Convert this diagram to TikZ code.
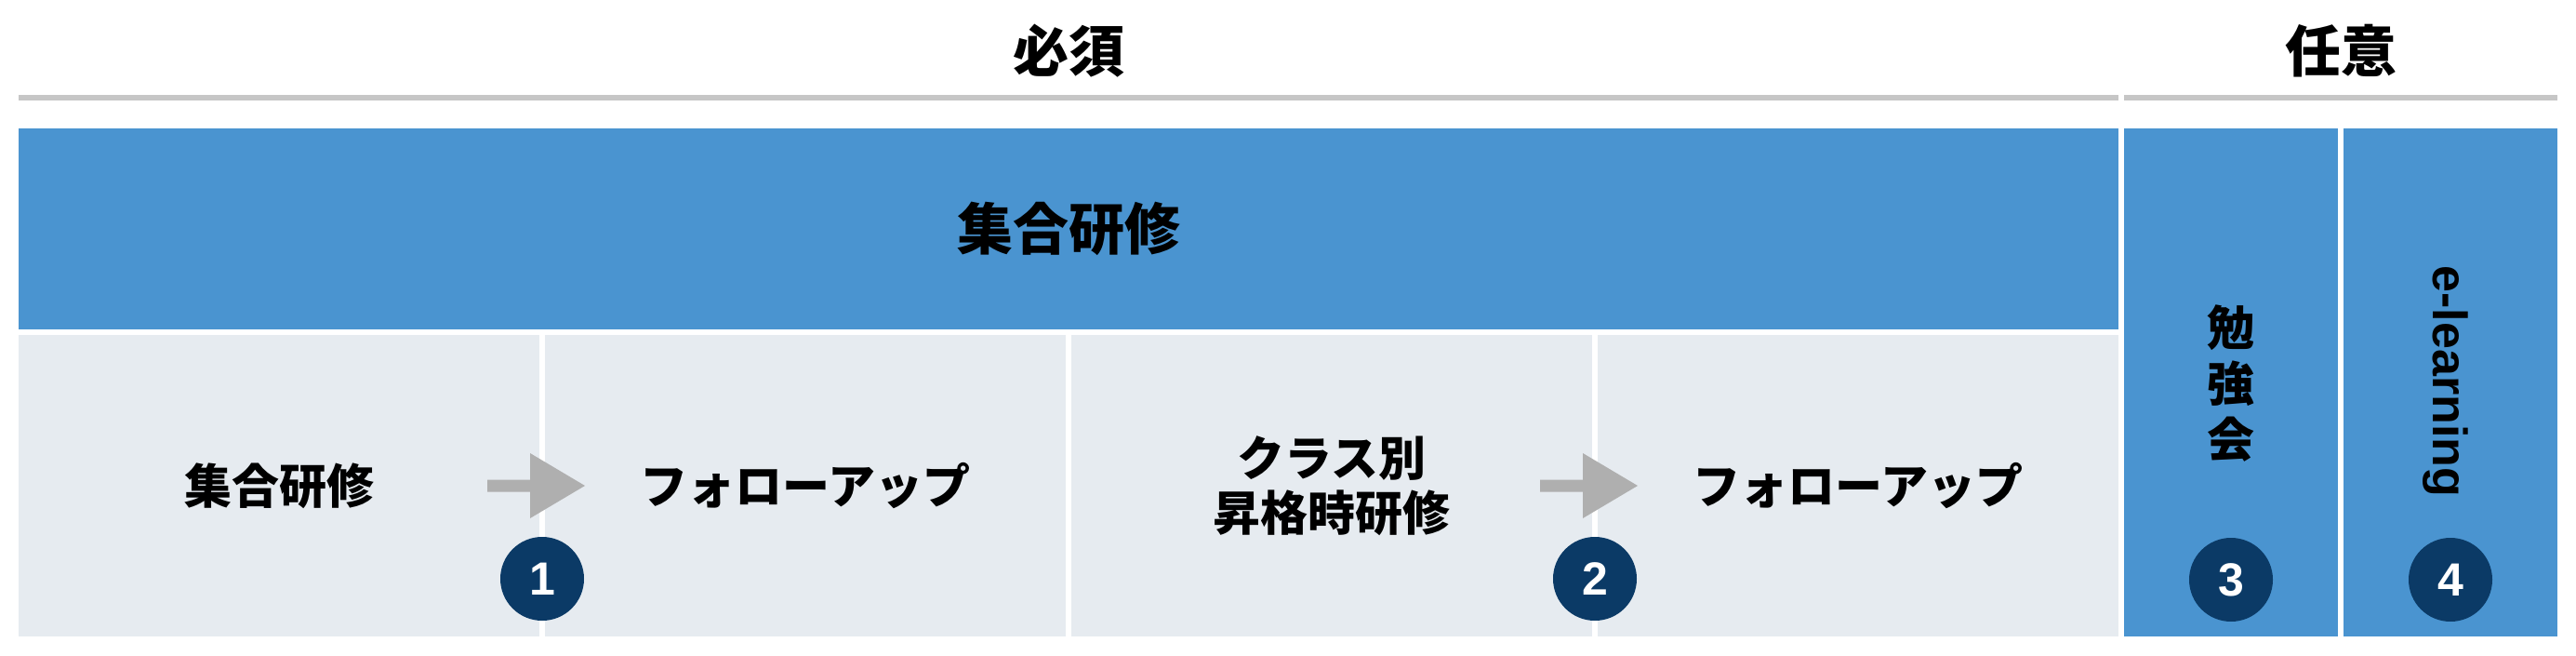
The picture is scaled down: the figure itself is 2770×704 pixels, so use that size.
\documentclass[tikz,border=0pt]{standalone}
\usepackage{fontspec}
\newfontfamily\jp{Noto Sans CJK JP}
\newfontfamily\lat{Liberation Sans}
\definecolor{blueC}{HTML}{4A94D0}
\definecolor{cellC}{HTML}{E6EBF0}
\definecolor{navyC}{HTML}{0B3A66}
\definecolor{arrowC}{HTML}{AFAFAF}
\definecolor{lineC}{HTML}{C6C6C6}
\begin{document}
\begin{tikzpicture}[x=1pt,y=-1pt,
  blk/.style={fill=blueC, draw=none, inner sep=0pt, outer sep=0pt},
  cellbox/.style={fill=cellC, draw=none, inner sep=0pt, outer sep=0pt, minimum width=560pt, minimum height=324pt, align=center, font=\jp\bfseries\fontsize{51}{59}\selectfont},
  num/.style={circle, fill=navyC, draw=none, minimum size=90pt, inner sep=0pt, text=white, font=\lat\bfseries\fontsize{50}{60}\selectfont},
  headtxt/.style={inner sep=0pt, font=\jp\bfseries\fontsize{60}{70}\selectfont},
  coltxt/.style={inner sep=0pt, align=center, font=\jp\bfseries\fontsize{51}{60}\selectfont},
  arrowshape/.style={fill=arrowC, draw=none},
  sepline/.style={draw=lineC, line width=6pt}
]
\useasboundingbox (0,0) rectangle (2770,704);
% header lines and labels
\coordinate (l1a) at (20,105);
\coordinate (l1b) at (2278,105);
\coordinate (l2a) at (2284,105);
\coordinate (l2b) at (2750,105);
\draw[sepline] (l1a) -- (l1b);
\draw[sepline] (l2a) -- (l2b);
\node[headtxt] (hissu) at (1149,55) {必須};
\node[headtxt] (nini) at (2517,55) {任意};
% blue band
\node[blk, minimum width=2258pt, minimum height=216pt, headtxt] (band) at (1149,246) {集合研修};
% cells
\node[cellbox] (c1) at (300,522) {集合研修};
\node[cellbox] (c2) at (866,522) {フォローアップ};
\node[cellbox] (c3) at (1432,522) {クラス別\\昇格時研修};
\node[cellbox] (c4) at (1998,522) {フォローアップ};
% optional columns
\node[blk, minimum width=230pt, minimum height=546pt] (col3) at (2399,411) {};
\node[blk, minimum width=230pt, minimum height=546pt] (col4) at (2635,411) {};
\node[coltxt] (t3) at (2399,412) {勉\\強\\会};
\node[inner sep=0pt, rotate=-90, font=\lat\bfseries\fontsize{52}{60}\selectfont] (t4) at (2630,410) {e-learning};
% arrows
\coordinate (d1) at (583,522);
\coordinate (d2) at (1715,522);
\fill[arrowshape, shift={(d1)}] (-59,-6.5) -- (-13,-6.5) -- (-13,-35) -- (46,0) -- (-13,35) -- (-13,6.5) -- (-59,6.5) -- cycle;
\fill[arrowshape, shift={(d2)}] (-59,-6.5) -- (-13,-6.5) -- (-13,-35) -- (46,0) -- (-13,35) -- (-13,6.5) -- (-59,6.5) -- cycle;
% numbers
\node[num] (n1) at (583,622) {1};
\node[num] (n2) at (1715,622) {2};
\node[num] (n3) at (2399,623) {3};
\node[num] (n4) at (2635,623) {4};
\end{tikzpicture}
\end{document}
